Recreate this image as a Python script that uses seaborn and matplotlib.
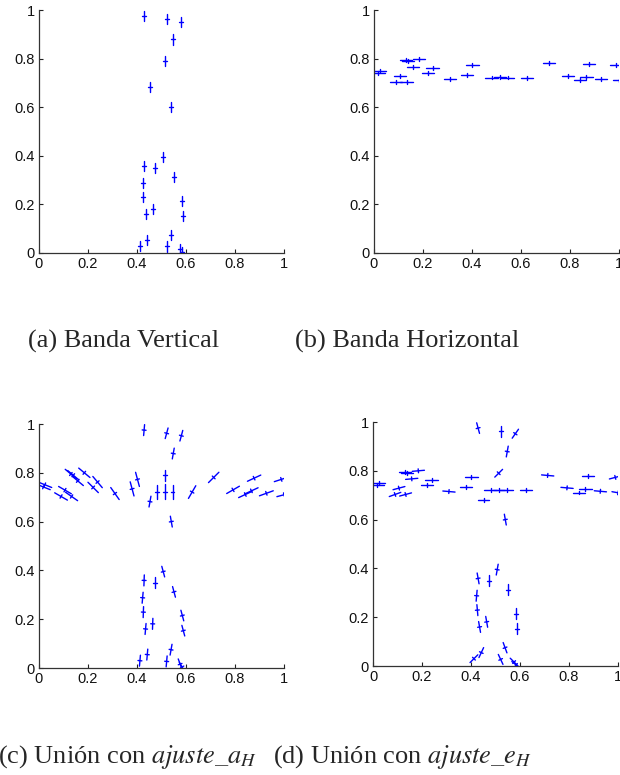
import numpy as np
import pandas as pd
import matplotlib
matplotlib.use("Agg")
import matplotlib.pyplot as plt
import seaborn as sns

# ---- data: vertical band points ----
VX = [0.429, 0.521, 0.581, 0.548, 0.513, 0.453, 0.540, 0.507, 0.429, 0.473,
      0.551, 0.423, 0.426, 0.585, 0.464, 0.435, 0.589, 0.539, 0.442, 0.412,
      0.521, 0.576, 0.584]
VY = [0.975, 0.962, 0.952, 0.879, 0.790, 0.682, 0.600, 0.395, 0.359, 0.349,
      0.312, 0.288, 0.229, 0.215, 0.181, 0.160, 0.153, 0.075, 0.055, 0.030,
      0.027, 0.016, 0.004]
# ---- data: horizontal band points ----
HX = [0.024, 0.018, 0.090, 0.133, 0.106, 0.130, 0.140, 0.185, 0.158, 0.221,
      0.239, 0.310, 0.380, 0.402, 0.480, 0.514, 0.545, 0.625, 0.713, 0.792,
      0.842, 0.867, 0.878, 0.928, 0.989, 1.000]
HY = [0.751, 0.742, 0.703, 0.703, 0.729, 0.795, 0.790, 0.800, 0.767, 0.740,
      0.762, 0.715, 0.734, 0.773, 0.722, 0.723, 0.722, 0.721, 0.781, 0.730,
      0.711, 0.726, 0.778, 0.716, 0.773, 0.710]
# orientation (degrees) of long arm in panels (c) and (d)
ANG_C_V = [85, 75, 75, 80, 90, 80, -80, -75, 88, 90, -75, 85, 88, -75, 88, 85,
           -75, 80, 85, 85, 85, -70, -60]
ANG_C_H = [-22, -22, -30, -35, -30, -40, -40, -40, -40, -45, -50, -55, -75, -75,
           90, 90, 90, 60, 45, 30, 25, 25, 25, 20, 18, 15]
ANG_D_V = [-75, 90, 55, 80, 45, 0, -80, 80, -80, 90, 90, 85, -85, 90, -80, -80,
           90, -70, 65, 45, -65, -45, -40]
ANG_D_H = [0, 0, 20, 15, 15, 0, 0, 5, 5, 0, 0, -5, 0, 0, 0, 0, 0, 0, -5, -5,
           0, 0, 0, -5, 15, -10]

TICKS = [0, 0.2, 0.4, 0.6, 0.8, 1]
TICK_LABELS = ["0", "0.2", "0.4", "0.6", "0.8", "1"]
CAPTIONS = ["(a) Banda Vertical", "(b) Banda Horizontal",
            r"(c) Unión con $ajuste\_a_H$", r"(d) Unión con $ajuste\_e_H$"]


def cross_frame(xs, ys, angs, long_len, short_len):
    rows = []
    k = 0
    for x, y, a in zip(xs, ys, angs):
        for ang, ln in ((a, long_len), (a + 90, short_len)):
            t = np.deg2rad(ang)
            dx, dy = np.cos(t) * ln / 2, np.sin(t) * ln / 2
            rows.append((k, x - dx, y - dy))
            rows.append((k, x + dx, y + dy))
            k += 1
    return pd.DataFrame(rows, columns=["seg", "x", "y"])


sns.set_style("ticks")
plt.rcParams["font.family"] = ["Liberation Sans", "DejaVu Sans"]
plt.rcParams["mathtext.fontset"] = "stix"

fig = plt.figure(figsize=(6.2, 7.75), dpi=100)
W, H = 620, 775
boxes = [(39, 10, 245, 243), (374, 10, 245, 243),
         (39, 424, 245, 244), (373, 422, 245, 244)]

frames = [
    [cross_frame(VX, VY, [90] * len(VX), 0.042, 0.016)],
    [cross_frame(HX, HY, [0] * len(HX), 0.05, 0.016)],
    [cross_frame(VX, VY, ANG_C_V, 0.045, 0.016),
     cross_frame(HX, HY, ANG_C_H, 0.06, 0.016)],
    [cross_frame(VX, VY, ANG_D_V, 0.045, 0.016),
     cross_frame(HX, HY, ANG_D_H, 0.05, 0.016)],
]

for (l, t, w, h), fl in zip(boxes, frames):
    ax = fig.add_axes([l / W, 1 - (t + h) / H, w / W, h / H])
    for i, df in enumerate(fl):
        df = df.copy()
        df["seg"] = df["seg"] + i * 10000
        sns.lineplot(data=df, x="x", y="y", units="seg", estimator=None,
                     sort=False, color="#0000ff", lw=1.0, ax=ax, legend=False)
    ax.set_xlim(0, 1)
    ax.set_ylim(0, 1)
    ax.set_xticks(TICKS)
    ax.set_xticklabels(TICK_LABELS)
    ax.set_yticks(TICKS)
    ax.set_yticklabels(TICK_LABELS)
    ax.set_xlabel("")
    ax.set_ylabel("")
    ax.tick_params(direction="in", length=3, width=0.8, labelsize=10.5,
                   colors="#222222", labelcolor="#111111", pad=3)
    for s in ["top", "right"]:
        ax.spines[s].set_visible(False)
    for s in ["left", "bottom"]:
        ax.spines[s].set_color("#333333")
        ax.spines[s].set_linewidth(0.9)

serif = ["Liberation Serif", "DejaVu Serif"]
fig.text(28 / W, 1 - 348 / H, CAPTIONS[0], ha="left", va="baseline",
         fontsize=19, family=serif)
fig.text(295 / W, 1 - 348 / H, CAPTIONS[1], ha="left", va="baseline",
         fontsize=19, family=serif)
fig.text(257 / W, 1 - 763 / H, CAPTIONS[2], ha="right", va="baseline",
         fontsize=19, family=serif)
fig.text(273 / W, 1 - 763 / H, CAPTIONS[3], ha="left", va="baseline",
         fontsize=19, family=serif)

fig.savefig("out.png", dpi=100)
